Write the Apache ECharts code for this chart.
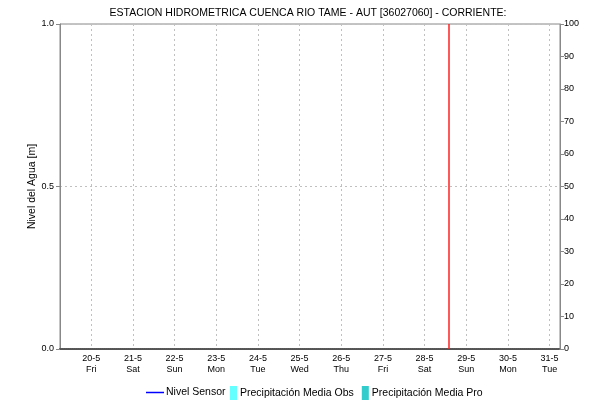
<!DOCTYPE html>
<html>
<head>
<meta charset="utf-8">
<script src="https://cdn.jsdelivr.net/npm/echarts@6/dist/echarts.min.js"></script>
<style>
  html, body { margin: 0; padding: 0; background: #fff; }
  #main { width: 589px; height: 401px; }
</style>
</head>
<body>
<div id="main"></div>
<script>
// data (the station reported nothing in this window)
const nivelSensor = [];
const precipObs = [];
const precipPro = [];
const weekdays = ["Sun", "Mon", "Tue", "Wed", "Thu", "Fri", "Sat"];
const tickDays = ["2022-05-20", "2022-05-21", "2022-05-22", "2022-05-23", "2022-05-24", "2022-05-25",
  "2022-05-26", "2022-05-27", "2022-05-28", "2022-05-29", "2022-05-30", "2022-05-31"];
const rangeStart = "2022-05-19T06:00:00";
const rangeEnd = "2022-05-31T06:00:00";
const nowMarker = "2022-05-28T14:00:00";

const font = "Liberation Sans";
const ts = (s) => new Date(s.length === 10 ? s + "T00:00:00" : s).getTime();
const tickValues = tickDays.map(ts);

var myChart = echarts.init(document.getElementById("main"));

const options = {
  animation: false,
  textStyle: { fontFamily: font },
  title: {
    text: "ESTACION HIDROMETRICA CUENCA RIO TAME - AUT [36027060] - CORRIENTE:",
    left: 303,
    textAlign: "center",
    top: 3,
    textStyle: { fontFamily: font, fontSize: 10.5, fontWeight: "normal", color: "#000" }
  },
  legend: [
    {
      left: 141, top: 382,
      itemWidth: 18, itemHeight: 1.5, itemGap: 8,
      data: [{
        name: "Nivel Sensor", icon: "rect",
        itemStyle: { color: "#0000ff" }, lineStyle: { color: "#0000ff" }
      }],
      textStyle: { fontFamily: font, fontSize: 10.5, color: "#000", padding: [0, 0, 0, -3] }
    },
    {
      left: 225, top: 381,
      itemWidth: 7, itemHeight: 14, itemGap: 8,
      data: [
        { name: "Precipitación Media Obs", icon: "rect" },
        { name: "Precipitación Media Pro", icon: "rect" }
      ],
      textStyle: { fontFamily: font, fontSize: 10.5, color: "#000", padding: [0, 0, 0, -2] }
    }
  ],
  grid: {
    left: 60, right: 29, top: 24, bottom: 52,
    show: true, borderColor: "#888", borderWidth: 1
  },
  xAxis: {
    type: "value",
    min: ts(rangeStart),
    max: ts(rangeEnd),
    axisLine: { show: true, lineStyle: { color: "#555", type: [1, 1], width: 2 } },
    axisTick: { show: false, customValues: tickValues },
    splitLine: { show: true, lineStyle: { color: "#c0c0c0", type: [2, 3] } },
    axisLabel: {
      color: "#000", fontSize: 9, lineHeight: 11, margin: 4,
      customValues: tickValues,
      formatter: function (v) {
        const d = new Date(v);
        return d.getDate() + "-" + (d.getMonth() + 1) + "\n" + weekdays[d.getDay()];
      }
    }
  },
  yAxis: [
    {
      type: "value",
      min: 0, max: 1, interval: 0.5,
      name: "Nivel del Agua [m]",
      nameLocation: "middle",
      nameGap: 22,
      nameMoveOverlap: false,
      nameTextStyle: { fontFamily: font, fontSize: 10.5, color: "#000" },
      axisLine: { show: true, lineStyle: { color: "#888" } },
      axisTick: { show: true, length: 4, lineStyle: { color: "#888" } },
      axisLabel: { color: "#000", fontSize: 9, margin: 6, formatter: (v) => v.toFixed(1) },
      splitLine: { show: true, lineStyle: { color: "#c0c0c0", type: [2, 3] } }
    },
    {
      type: "value",
      min: 0, max: 100, interval: 10,
      position: "right",
      axisLine: { show: true, lineStyle: { color: "#888" } },
      axisTick: { show: true, length: 4, lineStyle: { color: "#888" } },
      axisLabel: { color: "#000", fontSize: 9, margin: 4 },
      splitLine: { show: false }
    }
  ],
  series: [
    {
      name: "Nivel Sensor",
      type: "line",
      yAxisIndex: 0,
      symbol: "none",
      itemStyle: { color: "#0000ff" },
      lineStyle: { color: "#0000ff", width: 1.5 },
      data: nivelSensor,
      markLine: {
        silent: true,
        symbol: ["none", "none"],
        label: { show: false },
        itemStyle: { color: "#ff2020" },
        lineStyle: { color: "#ff2020", type: "solid", width: 1.5 },
        data: [{ xAxis: ts(nowMarker), lineStyle: { color: "#ff2020" } }]
      }
    },
    {
      name: "Precipitación Media Obs",
      type: "bar",
      yAxisIndex: 1,
      itemStyle: { color: "#66ffff" },
      data: precipObs
    },
    {
      name: "Precipitación Media Pro",
      type: "bar",
      yAxisIndex: 1,
      itemStyle: { color: "#33cccc" },
      data: precipPro
    }
  ]
};

myChart.setOption(options);
window.onresize = function () {
  myChart.resize();
};
</script>
</body>
</html>
